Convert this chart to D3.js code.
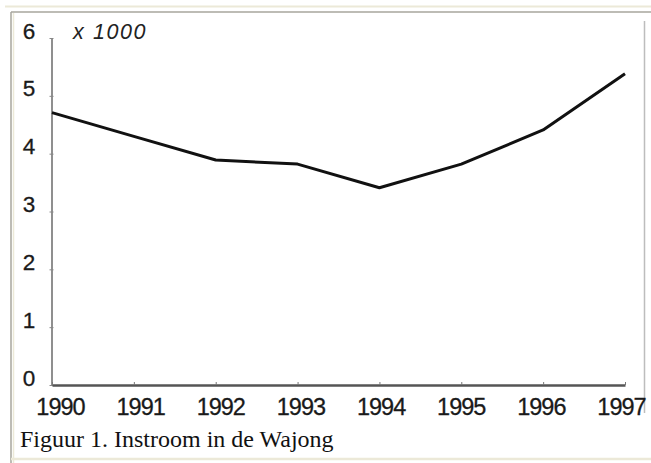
<!DOCTYPE html>
<html><head><meta charset="utf-8">
<script src="https://cdn.jsdelivr.net/npm/d3@7"></script>
<style>html,body{margin:0;padding:0;background:#fff;overflow:hidden}</style>
</head><body>
<script>
const years = [1990, 1991, 1992, 1993, 1994, 1995, 1996, 1997];
const instroom = [4.71, 4.30, 3.89, 3.82, 3.41, 3.82, 4.41, 5.38];
const yTicks = [0, 1, 2, 3, 4, 5, 6];
const unitLabel = "x 1000";
const caption = "Figuur 1. Instroom in de Wajong";

const W = 651, H = 463;
const svg = d3.select("body").append("svg").attr("width", W).attr("height", H);

// frame
svg.append("line").attr("x1",5).attr("x2",W).attr("y1",6.5).attr("y2",6.5).attr("stroke","#ece9d8").attr("stroke-width",2);
svg.append("line").attr("x1",11).attr("x2",W).attr("y1",12).attr("y2",12).attr("stroke","#a7a69c").attr("stroke-width",1.5);
svg.append("line").attr("x1",11).attr("x2",11).attr("y1",12).attr("y2",H).attr("stroke","#a7a69c").attr("stroke-width",1.5);
svg.append("line").attr("x1",13.5).attr("x2",13.5).attr("y1",13).attr("y2",H).attr("stroke","#ece9d8").attr("stroke-width",1.5);
svg.append("line").attr("x1",11).attr("x2",W).attr("y1",459).attr("y2",459).attr("stroke","#ece9d8").attr("stroke-width",2.5);
svg.append("line").attr("x1",644.5).attr("x2",644.5).attr("y1",21).attr("y2",413).attr("stroke","#bdbdbd").attr("stroke-width",1.5);

const x = d3.scaleLinear().domain([1990, 1997]).range([52, 625]);
const y = d3.scaleLinear().domain([0, 6]).range([385, 38]);
const xLab = d3.scalePoint().domain(years).range([60, 621]);

const font = "'Liberation Sans', Arial, sans-serif";

// y axis
const ya = svg.append("g").attr("transform", "translate(51.5,0)")
  .call(d3.axisLeft(y).tickValues(yTicks).tickSize(2).tickSizeOuter(0).tickFormat(d3.format("d")));
ya.select(".domain").attr("stroke", "#6a6a6a").attr("stroke-width", 1.5);
ya.selectAll(".tick line").attr("stroke", "#888").attr("x2", 2).attr("x1", -2);
ya.selectAll(".tick text").attr("x", 29 - 51.5).attr("dy", 0).attr("text-anchor", "middle")
  .attr("font-family", font).attr("font-size", 22.5).attr("fill", "#1a1a1a")
  .attr("stroke", "#1a1a1a").attr("stroke-width", 0.3);

// x axis
const xa = svg.append("g").attr("transform", "translate(0,385)")
  .call(d3.axisBottom(x).tickValues(years).tickSize(2).tickSizeOuter(0).tickFormat(d3.format("d")));
xa.select(".domain").attr("stroke", "#555").attr("stroke-width", 2.5);
xa.selectAll(".tick line").attr("stroke", "#777").attr("y1", -3).attr("y2", 0);
xa.selectAll(".tick text").attr("x", d => xLab(d) - x(d)).attr("y", 30).attr("dy", 0)
  .attr("text-anchor", "middle").attr("font-family", font).attr("font-size", 23.5)
  .attr("letter-spacing", "-1px").attr("fill", "#1a1a1a")
  .attr("stroke", "#1a1a1a").attr("stroke-width", 0.3);

// unit label
svg.append("text").attr("x", 73).attr("y", 39).attr("font-family", font).attr("font-style", "italic")
  .attr("font-size", 21.5).attr("letter-spacing", "1.6px").attr("fill", "#222").text(unitLabel);

// line
const line = d3.line().x((d, i) => x(years[i])).y(d => y(d));
svg.append("path").datum(instroom).attr("d", line).attr("fill", "none")
  .attr("stroke", "#111").attr("stroke-width", 3).attr("stroke-linejoin", "round");

// caption
svg.append("text").attr("x", 20).attr("y", 447).attr("font-family", "'Liberation Serif', 'Times New Roman', serif")
  .attr("font-size", 24).attr("fill", "#111").text(caption);
</script>
</body></html>
